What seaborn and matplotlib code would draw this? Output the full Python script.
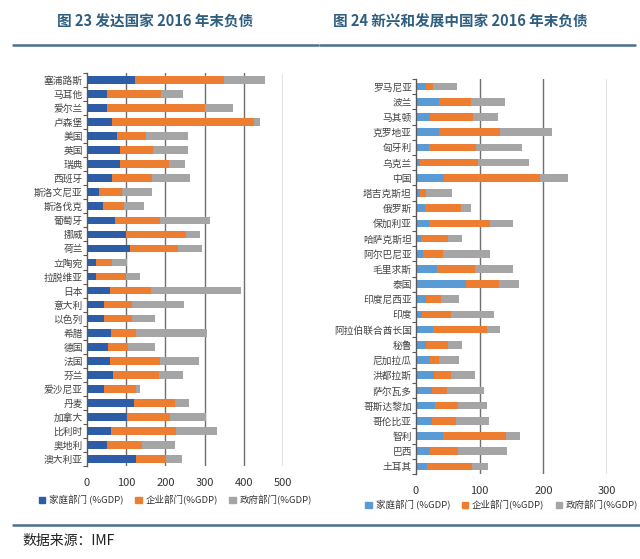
import numpy as np
import pandas as pd
import matplotlib
matplotlib.use("Agg")
import matplotlib.pyplot as plt
from matplotlib.lines import Line2D
from matplotlib.patches import Patch
import seaborn as sns

# Developed economies (%GDP), top to bottom
dev_countries = ["塞浦路斯", "马耳他", "爱尔兰", "卢森堡", "美国", "英国", "瑞典", "西班牙",
                 "斯洛文尼亚", "斯洛伐克", "葡萄牙", "挪威", "荷兰", "立陶宛", "拉脱维亚", "日本",
                 "意大利", "以色列", "希腊", "德国", "法国", "芬兰", "爱沙尼亚", "丹麦",
                 "加拿大", "比利时", "奥地利", "澳大利亚"]
dev_household = [122, 51, 52, 64, 77, 85, 85, 65, 30, 40, 71, 100, 109, 22, 24, 58,
                 43, 43, 62, 54, 59, 66, 43, 119, 101, 60, 51, 124]
dev_corporate = [227, 137, 250, 361, 74, 83, 123, 100, 60, 55, 114, 152, 123, 43, 76, 104,
                 72, 72, 62, 50, 127, 118, 83, 105, 112, 166, 90, 77]
dev_government = [104, 58, 70, 17, 107, 89, 41, 99, 77, 50, 129, 36, 61, 37, 36, 232,
                  132, 58, 183, 69, 99, 60, 10, 36, 90, 105, 84, 41]

# Emerging and developing economies (%GDP)
em_countries = ["罗马尼亚", "波兰", "马其顿", "克罗地亚", "匈牙利", "乌克兰", "中国", "塔吉克斯坦",
                "俄罗斯", "保加利亚", "哈萨克斯坦", "阿尔巴尼亚", "毛里求斯", "泰国", "印度尼西亚",
                "印度", "阿拉伯联合酋长国", "秘鲁", "尼加拉瓜", "洪都拉斯", "萨尔瓦多", "哥斯达黎加",
                "哥伦比亚", "智利", "巴西", "土耳其"]
em_household = [15, 36, 22, 36, 20, 7, 44, 7, 14, 20, 8, 11, 33, 78, 16, 9, 27, 15,
                22, 28, 25, 30, 25, 43, 22, 17]
em_corporate = [12, 50, 67, 96, 74, 91, 151, 8, 57, 96, 43, 31, 59, 53, 24, 46, 85, 36,
                14, 27, 24, 36, 38, 99, 44, 71]
em_government = [38, 54, 40, 81, 72, 79, 43, 41, 15, 37, 22, 74, 61, 31, 28, 68, 20, 22,
                 31, 38, 58, 46, 52, 21, 77, 25]

legend_labels = ["家庭部门 (%GDP)", "企业部门(%GDP)", "政府部门(%GDP)"]

sns.set_theme(style="white")
plt.rcParams["font.family"] = ["Noto Sans CJK SC", "DejaVu Sans"]

TITLE_C = "#2f5f80"
LINE_C = "#4a6f8f"
ORANGE = "#ED7D31"
GRAY = "#A5A5A5"


def stacked(ax, countries, h, c, g, blue, xmax, xticks, bar_w):
    df = pd.DataFrame({"country": countries, "h": h, "c": c, "g": g})
    df["hc"] = df["h"] + df["c"]
    df["tot"] = df["hc"] + df["g"]
    # draw cumulative totals back to front so they look stacked
    for col, color in [("tot", GRAY), ("hc", ORANGE), ("h", blue)]:
        sns.barplot(data=df, x=col, y="country", orient="h", color=color,
                    width=bar_w, ax=ax, saturation=1, linewidth=0)
    ax.set_xlim(0, xmax)
    ax.set_xticks(xticks)
    ax.set_xlabel("")
    ax.set_ylabel("")
    for t in xticks[1:]:
        ax.axvline(t, color="#6f6f6f", lw=1.0, zorder=0)
    for s in ["top", "right", "bottom"]:
        ax.spines[s].set_visible(False)
    ax.spines["left"].set_color("#595959")
    ax.spines["left"].set_linewidth(1.0)
    n = len(countries)
    ax.set_ylim(n - 0.5, -0.5)
    ax.set_yticks(np.arange(-0.5, n, 1.0), minor=True)
    ax.tick_params(axis="y", which="minor", length=3, color="#595959", width=0.8, left=True)
    ax.tick_params(axis="y", which="major", length=0, labelsize=7, pad=3)
    ax.tick_params(axis="x", length=0, labelsize=8, pad=9, labelcolor="#333333")
    for lab in ax.get_yticklabels():
        lab.set_color("#444444")


fig = plt.figure(figsize=(6.4, 5.59), dpi=100)

ax1 = fig.add_axes([87 / 640, 1 - 466 / 559, 196 / 640, 393 / 559])
stacked(ax1, dev_countries, dev_household, dev_corporate, dev_government,
        "#2E5DA8", 500, [0, 100, 200, 300, 400, 500], 0.55)

ax2 = fig.add_axes([416 / 640, 1 - 474 / 559, 191 / 640, 395 / 559])
stacked(ax2, em_countries, em_household, em_corporate, em_government,
        "#5B9BD5", 300, [0, 100, 200, 300], 0.5)

# titles
fig.text(155 / 640, 1 - 22 / 559, "图 23 发达国家 2016 年末负债", ha="center", va="center",
         fontsize=10.5, fontweight="bold", color=TITLE_C)
fig.text(460 / 640, 1 - 22 / 559, "图 24 新兴和发展中国家 2016 年末负债", ha="center", va="center",
         fontsize=10.5, fontweight="bold", color=TITLE_C)
fig.add_artist(Line2D([13 / 640, 318 / 640], [1 - 45 / 559] * 2, color=LINE_C, lw=1.8))
fig.add_artist(Line2D([320 / 640, 635 / 640], [1 - 45 / 559] * 2, color=LINE_C, lw=1.8))

# legends
for ax, blue, y in [(ax1, "#2E5DA8", 500), (ax2, "#5B9BD5", 505)]:
    handles = [Patch(color=blue), Patch(color=ORANGE), Patch(color=GRAY)]
    bb = ax.get_position()
    fig.legend(handles, legend_labels, loc="center",
               bbox_to_anchor=((bb.x0 + bb.x1) / 2 - 0.015, 1 - y / 559), ncol=3, frameon=False,
               fontsize=6.8, handlelength=0.7, handleheight=0.7, handletextpad=0.4,
               columnspacing=1.2, labelcolor="#333333")

# source line
fig.add_artist(Line2D([13 / 640, 1.0], [1 - 525 / 559] * 2, color=LINE_C, lw=1.8))
fig.text(22 / 640, 1 - 541 / 559, "数据来源：IMF", ha="left", va="center", fontsize=10,
         color="#222222")

fig.savefig("out.png", dpi=100)
